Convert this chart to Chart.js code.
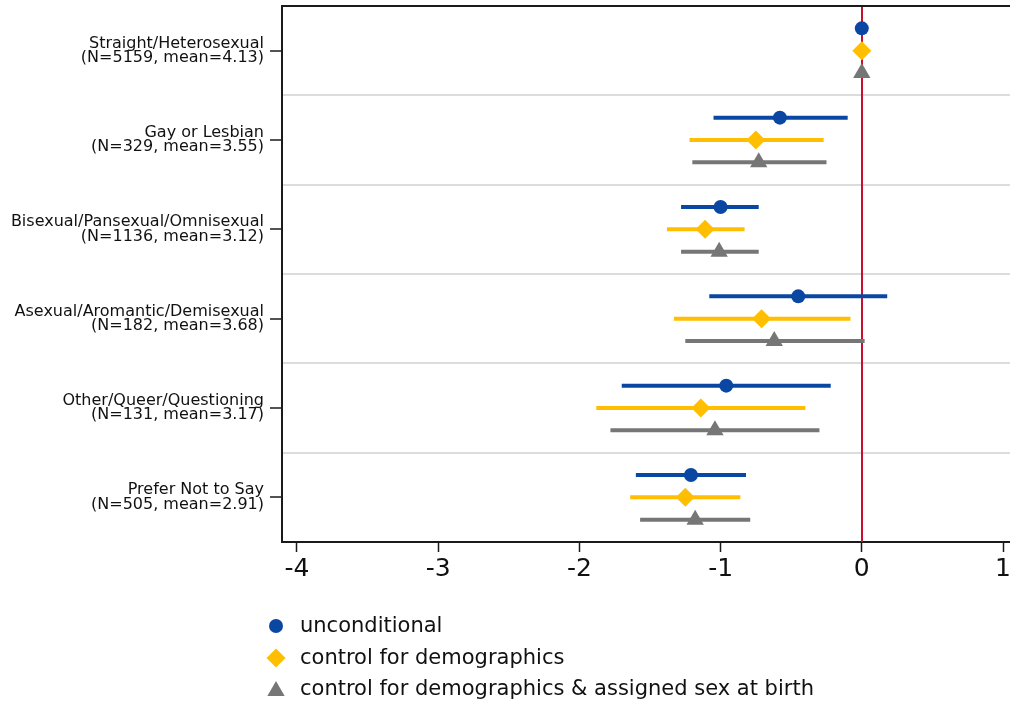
<!DOCTYPE html>
<html>
<head>
<meta charset="utf-8">
<script src="https://cdn.jsdelivr.net/npm/chart.js@4/dist/chart.umd.min.js"></script>
<style>
  html, body { margin: 0; padding: 0; background: #ffffff; overflow: hidden; width: 1010px; height: 705px; }
  #wrap { width: 1010px; height: 705px; overflow: hidden; }
  canvas { display: block; }
</style>
</head>
<body>
<div id="wrap"><canvas id="chart" width="1040" height="705"></canvas></div>
<script>
// Sexual orientation groups shown on the vertical axis
const groups = [
  'Straight/Heterosexual',
  'Gay or Lesbian',
  'Bisexual/Pansexual/Omnisexual',
  'Asexual/Aromantic/Demisexual',
  'Other/Queer/Questioning',
  'Prefer Not to Say'
];
const counts = [5159, 329, 1136, 182, 131, 505];
const means = [4.13, 3.55, 3.12, 3.68, 3.17, 2.91];

// Horizontal axis ticks
const xTicks = [-4, -3, -2, -1, 0, 1];

// Model names
const seriesNames = [
  'unconditional',
  'control for demographics',
  'control for demographics & assigned sex at birth'
];

// Estimates and 95% intervals (reference group has no interval)
const uncondEst  = [0, -0.58, -1.00, -0.45, -0.96, -1.21];
const uncondLow  = [null, -1.05, -1.28, -1.08, -1.70, -1.60];
const uncondHigh = [null, -0.10, -0.73, 0.18, -0.22, -0.82];

const demoEst  = [0, -0.75, -1.11, -0.71, -1.14, -1.25];
const demoLow  = [null, -1.22, -1.38, -1.33, -1.88, -1.64];
const demoHigh = [null, -0.27, -0.83, -0.08, -0.40, -0.86];

const sexEst  = [0, -0.73, -1.01, -0.62, -1.04, -1.18];
const sexLow  = [null, -1.20, -1.28, -1.25, -1.78, -1.57];
const sexHigh = [null, -0.25, -0.73, 0.02, -0.30, -0.79];

const FONT = "'DejaVu Sans', 'Liberation Sans', sans-serif";
const X_MIN = -4.106, X_MAX = 1.262;

function makeSeries(label, est, low, high, offset, color, style, radius) {
  return {
    label,
    data: est.map((v, i) => ({ x: v, y: i + 1 + offset })),
    ciLow: low,
    ciHigh: high,
    rowOffset: offset,
    backgroundColor: color,
    borderColor: color,
    pointStyle: style,
    pointRadius: radius,
    pointHoverRadius: radius,
    pointBorderWidth: 0,
    showLine: false
  };
}

const datasets = [
  makeSeries(seriesNames[0], uncondEst, uncondLow, uncondHigh, -0.25, '#0a47a3', 'circle', 7),
  makeSeries(seriesNames[1], demoEst, demoLow, demoHigh, 0, '#ffbf00', 'rectRot', 9.5),
  makeSeries(seriesNames[2], sexEst, sexLow, sexHigh, 0.25, '#767676', 'triangle', 10)
];

// Zero reference line and the horizontal interval bars
const intervalPlugin = {
  id: 'intervals',
  beforeDatasetsDraw(chart) {
    const { ctx, chartArea, scales } = chart;
    const xs = scales.x, ys = scales.y;
    ctx.save();
    // vertical line at zero
    const x0 = Math.round(xs.getPixelForValue(0));
    ctx.strokeStyle = '#c8102e';
    ctx.lineWidth = 2;
    ctx.beginPath();
    ctx.moveTo(x0, chartArea.top);
    ctx.lineTo(x0, chartArea.bottom);
    ctx.stroke();
    // interval bars
    ctx.lineWidth = 4;
    ctx.lineCap = 'butt';
    chart.data.datasets.forEach(ds => {
      ctx.strokeStyle = ds.borderColor;
      ds.ciLow.forEach((lo, i) => {
        const hi = ds.ciHigh[i];
        if (lo === null || hi === null) return;
        const y = ys.getPixelForValue(i + 1 + ds.rowOffset);
        ctx.beginPath();
        ctx.moveTo(xs.getPixelForValue(lo), y);
        ctx.lineTo(xs.getPixelForValue(hi), y);
        ctx.stroke();
      });
    });
    ctx.restore();
  },
  afterDraw(chart) {
    const { ctx, chartArea } = chart;
    ctx.save();
    // top frame line
    ctx.strokeStyle = '#1a1a1a';
    ctx.lineWidth = 2;
    ctx.beginPath();
    ctx.moveTo(chartArea.left - 1, chartArea.top);
    ctx.lineTo(chartArea.right, chartArea.top);
    ctx.stroke();

    // legend, stacked vertically under the axis
    const lx = chartArea.left - 6;
    const rows = [chartArea.bottom + 84, chartArea.bottom + 116, chartArea.bottom + 147];
    ctx.font = '21px ' + FONT;
    ctx.textBaseline = 'middle';
    ctx.textAlign = 'left';
    chart.data.datasets.forEach((ds, k) => {
      const y = rows[k];
      ctx.fillStyle = ds.backgroundColor;
      if (Chart.helpers && Chart.helpers.drawPoint) {
        Chart.helpers.drawPoint(ctx, {
          pointStyle: ds.pointStyle,
          radius: ds.pointRadius,
          borderWidth: 0,
          rotation: 0
        }, lx, y + (ds.pointStyle === 'triangle' ? 2 : 0));
      }
      ctx.fillStyle = '#111111';
      ctx.fillText(ds.label, lx + 24, y + 1);
    });
    ctx.restore();
  }
};

new Chart(document.getElementById('chart'), {
  type: 'scatter',
  data: { datasets },
  plugins: [intervalPlugin],
  options: {
    responsive: false,
    animation: false,
    events: [],
    layout: { autoPadding: false, padding: { left: 0, right: 0, top: 6, bottom: 113 } },
    plugins: {
      legend: { display: false },
      tooltip: { enabled: false }
    },
    scales: {
      x: {
        type: 'linear',
        min: X_MIN,
        max: X_MAX,
        afterBuildTicks(s) { s.ticks = xTicks.map(v => ({ value: v })); },
        afterFit(s) {
          s.height = 50;
          s.paddingLeft = 0;
          s.paddingRight = 0;
        },
        grid: {
          drawOnChartArea: false,
          drawTicks: true,
          tickLength: 10,
          tickColor: '#1a1a1a',
          tickWidth: 1.5
        },
        border: { display: true, color: '#1a1a1a', width: 2 },
        ticks: {
          color: '#111111',
          font: { family: FONT, size: 25 },
          padding: 2,
          maxRotation: 0,
          callback: v => String(v)
        }
      },
      y: {
        type: 'linear',
        min: 0.5,
        max: 6.5,
        reverse: true,
        afterBuildTicks(s) {
          const t = [];
          for (let i = 1; i <= groups.length; i++) {
            t.push({ value: i });
            if (i < groups.length) t.push({ value: i + 0.5 });
          }
          s.ticks = t;
        },
        afterFit(s) {
          s.width = 282;
          s.paddingTop = 0;
          s.paddingBottom = 0;
        },
        grid: {
          drawOnChartArea: true,
          drawTicks: true,
          tickLength: 12,
          color: c => (c.tick && c.tick.value % 1 !== 0) ? '#dcdcdc' : 'rgba(0,0,0,0)',
          lineWidth: 2,
          tickColor: c => (c.tick && c.tick.value % 1 === 0) ? '#1a1a1a' : 'rgba(0,0,0,0)',
          tickWidth: 1.5
        },
        border: { display: true, color: '#1a1a1a', width: 2 },
        ticks: {
          color: '#111111',
          padding: 6,
          font: { family: FONT, size: 16, lineHeight: 0.9 },
          callback: v => {
            if (v % 1 !== 0) return '';
            const i = v - 1;
            return [groups[i], '(N=' + counts[i] + ', mean=' + means[i].toFixed(2) + ')'];
          }
        }
      }
    }
  }
});
</script>
</body>
</html>
